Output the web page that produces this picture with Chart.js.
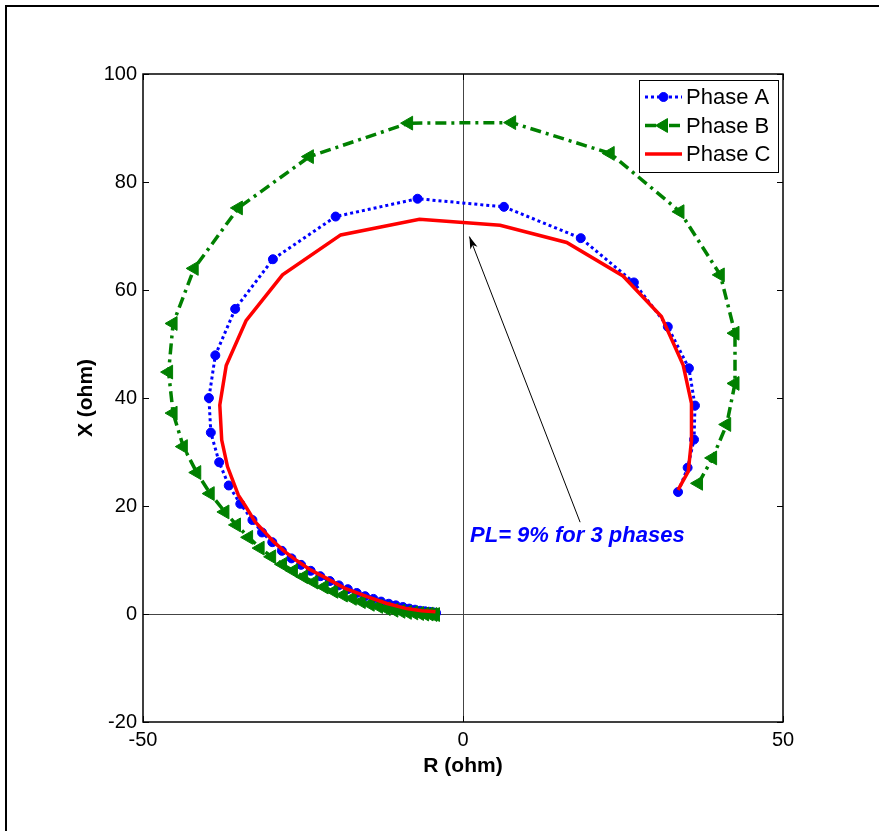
<!DOCTYPE html>
<html>
<head>
<meta charset="utf-8">
<script src="https://cdn.jsdelivr.net/npm/chart.js@4.4.1/dist/chart.umd.min.js"></script>
<style>
  body { margin: 0; background: #fff; }
  #wrap { position: relative; width: 879px; height: 831px; }
  #frame { position: absolute; left: 5px; top: 5px; right: -10px; bottom: -10px; border-top: 2px solid #000; border-left: 2px solid #000; }
  canvas { position: absolute; left: 0; top: 0; }
</style>
</head>
<body>
<div id="wrap">
  <div id="frame"></div>
  <canvas id="chart" width="879" height="831"></canvas>
</div>
<script>
// Phase A (blue, dotted with circles)
var aR = [33.6, 35.1, 36.1, 36.25, 35.3, 32.0, 26.7, 18.4, 6.4, -7.1, -19.9, -29.7, -35.6, -38.7, -39.7, -39.4, -38.1, -36.6, -34.8, -32.9, -31.4, -29.8, -28.3,
          -26.8, -25.3, -23.8, -22.3, -20.8, -19.4, -18.0, -16.6, -15.3, -14.0, -12.8, -11.6, -10.5, -9.4, -8.4, -7.5, -6.7, -5.9, -5.2, -4.6, -4.2];
var aX = [22.6, 27.1, 32.3, 38.6, 45.5, 53.2, 61.4, 69.6, 75.4, 76.9, 73.6, 65.7, 56.5, 47.9, 40.0, 33.6, 28.1, 23.8, 20.4, 17.4, 15.1, 13.3, 11.7,
          10.3, 9.1, 8.0, 7.0, 6.1, 5.3, 4.6, 3.9, 3.3, 2.8, 2.3, 1.9, 1.6, 1.3, 1.0, 0.8, 0.6, 0.5, 0.4, 0.3, 0.2];

// Phase B (green, dash-dot with left triangles)
var bR = [36.8, 39.0, 41.2, 42.5, 42.5, 40.2, 33.9, 23.0, 7.6, -8.5, -24.0, -35.1, -42.0, -45.3, -46.0, -45.3, -43.7, -41.6, -39.5, -37.2, -35.4, -33.5, -31.7, -29.9,
          -28.2, -26.5, -24.9, -23.3, -21.7, -20.2, -18.7, -17.3, -15.9, -14.5, -13.2, -12.0, -10.8, -9.7, -8.7, -7.7, -6.8, -6.0, -5.3, -4.7, -4.3];
var bX = [24.2, 28.9, 35.1, 42.7, 52.0, 62.8, 74.5, 85.3, 91.0, 90.9, 84.7, 75.2, 64.0, 53.8, 44.8, 37.2, 31.0, 26.2, 22.3, 18.9, 16.5, 14.2, 12.2, 10.6,
          9.2, 8.0, 6.9, 5.9, 5.0, 4.2, 3.5, 2.9, 2.3, 1.8, 1.4, 1.0, 0.7, 0.5, 0.3, 0.2, 0.1, 0.0, 0.0, -0.1, -0.1];

// Phase C (red, solid)
var cR = [33.6, 35.2, 35.7, 35.7, 34.4, 31.0, 25.0, 16.2, 5.8, -6.8, -19.1, -28.2, -33.9, -37.0, -38.0, -37.7, -36.8, -35.1, -34.0, -32.5, -31.0, -29.6, -28.0, -26.0, -24.0, -21.3, -18.5, -15.0, -12.0, -8.8, -6.5, -4.3];
var cX = [23.0, 26.4, 32.2, 39.0, 46.1, 55.1, 62.6, 68.8, 72.0, 73.1, 70.2, 62.8, 54.3, 46.0, 38.7, 32.2, 27.3, 22.0, 20.0, 17.1, 15.2, 13.4, 11.7, 9.9, 8.3, 6.6, 4.8, 3.2, 2.0, 1.0, 0.6, 0.4];

var seriesNames = ['Phase A', 'Phase B', 'Phase C'];
var xTicks = [-50, 0, 50];
var yTicks = [-20, 0, 20, 40, 60, 80, 100];
var xTitle = 'R (ohm)';
var yTitle = 'X (ohm)';

// annotation: text anchor and arrow (data units)
var noteText = 'PL= 9% for 3 phases';
var notePos = [1.1, 14.4];
var arrowFrom = [18.3, 17.0];
var arrowTo = [1.0, 69.9];

function pts(r, x) {
  return r.map(function (v, i) { return { x: v, y: x[i] }; });
}

var FAM = 'Liberation Sans, Arial, sans-serif';
var tickFont = { family: FAM, size: 20 };

var boxPlugin = {
  id: 'box',
  afterDatasetsDraw: function (chart) {
    var ctx = chart.ctx, a = chart.chartArea;
    var sx = chart.scales.x, sy = chart.scales.y;
    ctx.save();
    // annotation arrow
    var x1 = sx.getPixelForValue(arrowFrom[0]), y1 = sy.getPixelForValue(arrowFrom[1]);
    var x2 = sx.getPixelForValue(arrowTo[0]), y2 = sy.getPixelForValue(arrowTo[1]);
    ctx.strokeStyle = '#000';
    ctx.lineWidth = 1;
    ctx.beginPath(); ctx.moveTo(x1, y1); ctx.lineTo(x2, y2); ctx.stroke();
    var ang = Math.atan2(y2 - y1, x2 - x1);
    ctx.fillStyle = '#000';
    ctx.beginPath();
    ctx.moveTo(x2, y2);
    ctx.lineTo(x2 - 13 * Math.cos(ang - 0.3), y2 - 13 * Math.sin(ang - 0.3));
    ctx.lineTo(x2 - 9 * Math.cos(ang), y2 - 9 * Math.sin(ang));
    ctx.lineTo(x2 - 13 * Math.cos(ang + 0.3), y2 - 13 * Math.sin(ang + 0.3));
    ctx.closePath(); ctx.fill();
    ctx.font = 'italic bold 22px ' + FAM;
    ctx.fillStyle = '#0000ff';
    ctx.textBaseline = 'middle';
    ctx.textAlign = 'left';
    ctx.fillText(noteText, sx.getPixelForValue(notePos[0]), sy.getPixelForValue(notePos[1]));

    // axes box and inward ticks
    ctx.strokeStyle = '#000';
    ctx.lineWidth = 1.5;
    ctx.strokeRect(a.left, a.top, a.right - a.left, a.bottom - a.top);
    ctx.lineWidth = 1;
    ctx.beginPath();
    yTicks.forEach(function (v) {
      var y = Math.round(sy.getPixelForValue(v)) + 0.5;
      ctx.moveTo(a.left, y); ctx.lineTo(a.left + 6, y);
      ctx.moveTo(a.right, y); ctx.lineTo(a.right - 6, y);
    });
    xTicks.forEach(function (v) {
      var x = Math.round(sx.getPixelForValue(v)) + 0.5;
      ctx.moveTo(x, a.bottom); ctx.lineTo(x, a.bottom - 6);
      ctx.moveTo(x, a.top); ctx.lineTo(x, a.top + 6);
    });
    ctx.stroke();

    // axis titles
    ctx.fillStyle = '#000';
    ctx.font = 'bold 21px ' + FAM;
    ctx.textAlign = 'center';
    ctx.textBaseline = 'middle';
    ctx.fillText(xTitle, (a.left + a.right) / 2, a.bottom + 44);
    ctx.save();
    ctx.translate(a.left - 57, (a.top + a.bottom) / 2);
    ctx.rotate(-Math.PI / 2);
    ctx.fillText(yTitle, 0, 0);
    ctx.restore();

    // legend
    var lx = 639, ly = 80, lw = 139, lh = 92;
    ctx.fillStyle = '#fff';
    ctx.fillRect(lx, ly, lw, lh);
    ctx.strokeStyle = '#000';
    ctx.lineWidth = 1;
    ctx.strokeRect(lx + 0.5, ly + 0.5, lw, lh);
    chart.data.datasets.forEach(function (ds, i) {
      var yy = ly + 17 + i * 28.5;
      ctx.save();
      ctx.strokeStyle = ds.borderColor;
      ctx.lineWidth = ds.borderWidth;
      ctx.setLineDash(ds.borderDash || []);
      ctx.beginPath(); ctx.moveTo(lx + 6, yy); ctx.lineTo(lx + 43, yy); ctx.stroke();
      ctx.restore();
      if (ds.pointRadius > 0) {
        ctx.save();
        ctx.fillStyle = ds.pointBackgroundColor;
        ctx.strokeStyle = ds.pointBorderColor;
        Chart.helpers.drawPoint(ctx, {
          pointStyle: ds.pointStyle, radius: ds.pointRadius, rotation: ds.pointRotation || 0,
          borderWidth: 1
        }, lx + 24.5, yy);
        ctx.restore();
      }
      ctx.fillStyle = '#000';
      ctx.font = '22px ' + FAM;
      ctx.textAlign = 'left';
      ctx.textBaseline = 'middle';
      ctx.fillText(ds.label, lx + 47, yy + 1);
    });
    ctx.restore();
  }
};

new Chart(document.getElementById('chart'), {
  type: 'scatter',
  data: {
    datasets: [
      {
        label: seriesNames[0], data: pts(aR, aX), showLine: true, order: 2,
        borderColor: '#0000ff', borderWidth: 3, borderDash: [3, 3],
        pointStyle: 'circle', pointRadius: 4.5, pointBackgroundColor: '#0000ff', pointBorderColor: '#0000ff', pointBorderWidth: 1
      },
      {
        label: seriesNames[1], data: pts(bR, bX), showLine: true, order: 1,
        borderColor: '#008000', borderWidth: 3.5, borderDash: [11, 5, 3, 5],
        pointStyle: 'triangle', pointRotation: -90, pointRadius: 8, pointBackgroundColor: '#008000', pointBorderColor: '#008000', pointBorderWidth: 1
      },
      {
        label: seriesNames[2], data: pts(cR, cX), showLine: true, order: 0,
        borderColor: '#ff0000', borderWidth: 3.5, pointRadius: 0
      }
    ]
  },
  options: {
    responsive: false,
    animation: false,
    layout: { padding: { left: 0, right: 96, top: 74, bottom: 0 } },
    plugins: { legend: { display: false }, tooltip: { enabled: false } },
    elements: { line: { tension: 0 } },
    scales: {
      x: {
        type: 'linear', min: -50, max: 50,
        afterBuildTicks: function (s) { s.ticks = xTicks.map(function (v) { return { value: v }; }); },
        afterFit: function (s) { s.height = 109; },
        border: { display: false },
        grid: { drawTicks: false, lineWidth: 1, color: function (c) { return c.tick && c.tick.value === 0 ? '#444' : 'rgba(0,0,0,0)'; } },
        ticks: { color: '#000', font: tickFont, padding: 6, maxRotation: 0 }
      },
      y: {
        type: 'linear', min: -20, max: 100,
        afterBuildTicks: function (s) { s.ticks = yTicks.map(function (v) { return { value: v }; }); },
        afterFit: function (s) { s.width = 143; },
        border: { display: false },
        grid: { drawTicks: false, lineWidth: 1, color: function (c) { return c.tick && c.tick.value === 0 ? '#444' : 'rgba(0,0,0,0)'; } },
        ticks: { color: '#000', font: tickFont, padding: 6 }
      }
    }
  },
  plugins: [boxPlugin]
});
</script>
</body>
</html>
